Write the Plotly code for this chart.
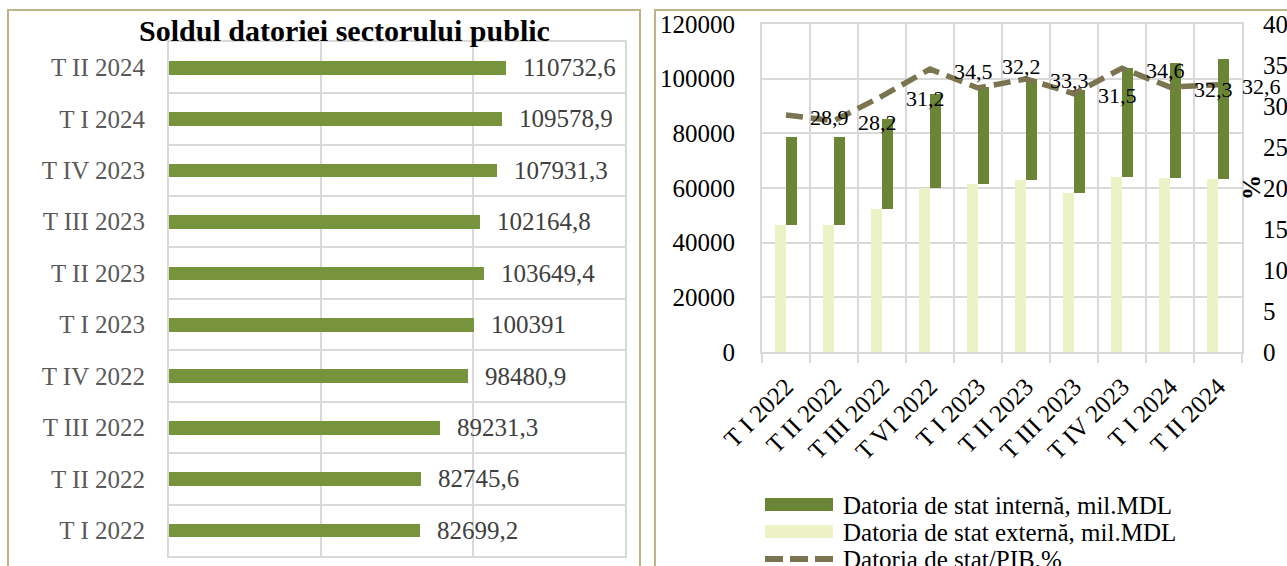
import plotly.graph_objects as go

# ---------------- data ----------------
left_categories = ["T I 2022", "T II 2022", "T III 2022", "T IV 2022", "T I 2023",
                   "T II 2023", "T III 2023", "T IV 2023", "T I 2024", "T II 2024"]
public_debt = [82699.2, 82745.6, 89231.3, 98480.9, 100391.0,
               103649.4, 102164.8, 107931.3, 109578.9, 110732.6]

right_categories = ["T I 2022", "T II 2022", "T III 2022", "T VI 2022", "T I 2023",
                    "T II 2023", "T III 2023", "T IV 2023", "T I 2024", "T II 2024"]
external_debt = [46300, 46300, 52300, 60000, 61600, 62900, 58300, 64100, 63500, 63200]
internal_debt = [32400, 32500, 33100, 34400, 35200, 37000, 37600, 39800, 42400, 43900]
debt_gdp = [28.9, 28.2, 31.2, 34.5, 32.2, 33.3, 31.5, 34.6, 32.3, 32.6]

legend_names = ["Datoria de stat internă, mil.MDL",
                "Datoria de stat externă, mil.MDL",
                "Datoria de stat/PIB,%"]
title_text = "Soldul datoriei sectorului public"

# ---------------- style ----------------
W, H = 1287, 566
FONT = "Liberation Serif"
GREEN_L = "#77933C"
GREEN_D = "#6B8537"
LIGHT = "#ECF2C6"
LINE_C = "#7A7450"
GRID = "#D9D9D9"
BORDER = "#BDB387"

def px(x):
    return x / W

def py(y):
    return 1 - y / H

def fmt(v):
    s = f"{v:.1f}"
    if s.endswith(".0"):
        s = s[:-2]
    return s.replace(".", ",")

idx_left = list(range(len(left_categories)))
idx_right = list(range(len(right_categories)))

fig = go.Figure()

# left horizontal bars
fig.add_trace(go.Bar(x=public_debt, y=idx_left, orientation="h", width=0.266,
                     marker=dict(color=GREEN_L, line=dict(width=0)),
                     xaxis="x", yaxis="y", showlegend=False, hoverinfo="x"))

# right stacked (offset) bars
fig.add_trace(go.Bar(x=idx_right, y=external_debt, offset=-0.225, width=0.225,
                     marker=dict(color=LIGHT, line=dict(width=0)),
                     xaxis="x2", yaxis="y2", showlegend=False, name=legend_names[1]))
fig.add_trace(go.Bar(x=idx_right, y=internal_debt, base=external_debt, offset=0.0, width=0.225,
                     marker=dict(color=GREEN_D, line=dict(width=0)),
                     xaxis="x2", yaxis="y2", showlegend=False, name=legend_names[0]))

# ratio line
fig.add_trace(go.Scatter(x=idx_right, y=debt_gdp, mode="lines",
                         line=dict(color=LINE_C, width=5.5, dash="17px,8px"),
                         xaxis="x2", yaxis="y3", showlegend=False, name=legend_names[2]))

annotations = []
# left value labels
for i, v in enumerate(public_debt):
    annotations.append(dict(x=v, y=i, xref="x", yref="y", text=fmt(v), showarrow=False,
                            xanchor="left", yanchor="middle", xshift=15,
                            font=dict(family=FONT, size=25, color="#404040")))
# line labels
for i, v in enumerate(debt_gdp):
    annotations.append(dict(x=i, y=v, xref="x2", yref="y3", text=fmt(v), showarrow=False,
                            xanchor="left", yanchor="middle", xshift=22,
                            yshift=21 if i == 4 else -2,
                            font=dict(family=FONT, size=22, color="#000000")))
# title
annotations.append(dict(x=px(344), y=py(31), xref="paper", yref="paper", text=f"<b>{title_text}</b>",
                        showarrow=False, xanchor="center", yanchor="middle",
                        font=dict(family=FONT, size=30, color="#000000")))
# % axis title
annotations.append(dict(x=px(1252), y=py(188), xref="paper", yref="paper", text="<b>%</b>",
                        showarrow=False, xanchor="center", yanchor="middle", textangle=-90,
                        font=dict(family=FONT, size=25, color="#000000")))
# custom legend texts
legend_rows = [505, 532, 559]
for name, yy in zip(legend_names, legend_rows):
    annotations.append(dict(x=px(841), y=py(yy), xref="paper", yref="paper", text=name,
                            showarrow=False, xanchor="left", yanchor="middle",
                            font=dict(family=FONT, size=25, color="#000000")))

shapes = [
    # panel borders
    dict(type="rect", xref="paper", yref="paper", x0=px(8), x1=px(640), y0=py(590), y1=py(10),
         line=dict(color=BORDER, width=2), fillcolor="rgba(0,0,0,0)", layer="below"),
    dict(type="rect", xref="paper", yref="paper", x0=px(655), x1=px(1310), y0=py(590), y1=py(10),
         line=dict(color=BORDER, width=2), fillcolor="rgba(0,0,0,0)", layer="below"),
    # legend symbols
    dict(type="rect", xref="paper", yref="paper", x0=px(765), x1=px(833), y0=py(511), y1=py(498),
         line=dict(width=0), fillcolor=GREEN_D),
    dict(type="rect", xref="paper", yref="paper", x0=px(765), x1=px(833), y0=py(538), y1=py(525),
         line=dict(width=0), fillcolor=LIGHT),
    dict(type="line", xref="paper", yref="paper", x0=px(765), x1=px(833), y0=py(559), y1=py(559),
         line=dict(color=LINE_C, width=6, dash="18px,7px")),
]

tick_font_l = dict(family=FONT, size=25, color="#595959")
tick_font_r = dict(family=FONT, size=25, color="#000000")

fig.update_layout(
    width=W, height=H, autosize=False,
    margin=dict(l=0, r=0, t=0, b=0, pad=0, autoexpand=False),
    paper_bgcolor="white", plot_bgcolor="white",
    barmode="overlay", bargap=0,
    showlegend=False,
    font=dict(family=FONT, color="#000000"),
    xaxis=dict(domain=[px(169), px(625)], anchor="y", range=[0, 150000], dtick=50000,
               showticklabels=False, showgrid=True, gridcolor=GRID, gridwidth=2,
               zeroline=False, showline=True, linecolor=GRID, linewidth=2, mirror=True,
               automargin=False, fixedrange=True),
    yaxis=dict(domain=[py(556), py(41.7)], anchor="x", range=[-0.5, len(left_categories) - 0.5],
               tickmode="array", tickvals=idx_left, ticktext=left_categories,
               showgrid=False, zeroline=False, ticks="", tickfont=tick_font_l,
               ticklabelstandoff=17, automargin=False,
               showline=True, linecolor=GRID, linewidth=2, mirror=True,
               minor=dict(tickmode="array", tickvals=[k - 0.5 for k in range(len(left_categories) + 1)],
                          showgrid=True, gridcolor=GRID, gridwidth=2, ticks=""),
               fixedrange=True),
    xaxis2=dict(domain=[px(762), px(1242)], anchor="y2", range=[-0.5, len(right_categories) - 0.5],
                tickmode="array", tickvals=idx_right, ticktext=right_categories,
                tickangle=-45, tickfont=tick_font_r, showgrid=False, zeroline=False, ticks="",
                ticklabelstandoff=8, automargin=False,
                showline=True, linecolor=GRID, linewidth=2, mirror=True,
                minor=dict(tickmode="array", tickvals=[k - 0.5 for k in range(len(right_categories) + 1)],
                           showgrid=True, gridcolor=GRID, gridwidth=2,
                           ticks="outside", ticklen=9, tickcolor=GRID, tickwidth=2),
                fixedrange=True),
    yaxis2=dict(domain=[py(352), py(24)], anchor="x2", range=[0, 120000], dtick=20000,
                tickfont=tick_font_r, showgrid=True, gridcolor=GRID, gridwidth=2,
                zeroline=False, ticks="", ticklabelstandoff=20, tickformat="d",
                showline=True, linecolor=GRID, linewidth=2, mirror=True,
                automargin=False, fixedrange=True),
    yaxis3=dict(overlaying="y2", anchor="x2", side="right", range=[0, 40], dtick=5,
                tickfont=tick_font_r, showgrid=False, zeroline=False, ticks="",
                ticklabelstandoff=20, automargin=False, fixedrange=True),
    annotations=annotations,
    shapes=shapes,
)

fig.write_html("out.html", config={"displayModeBar": False},
               post_script="document.body.style.margin='0px';document.body.style.overflow='hidden';")
